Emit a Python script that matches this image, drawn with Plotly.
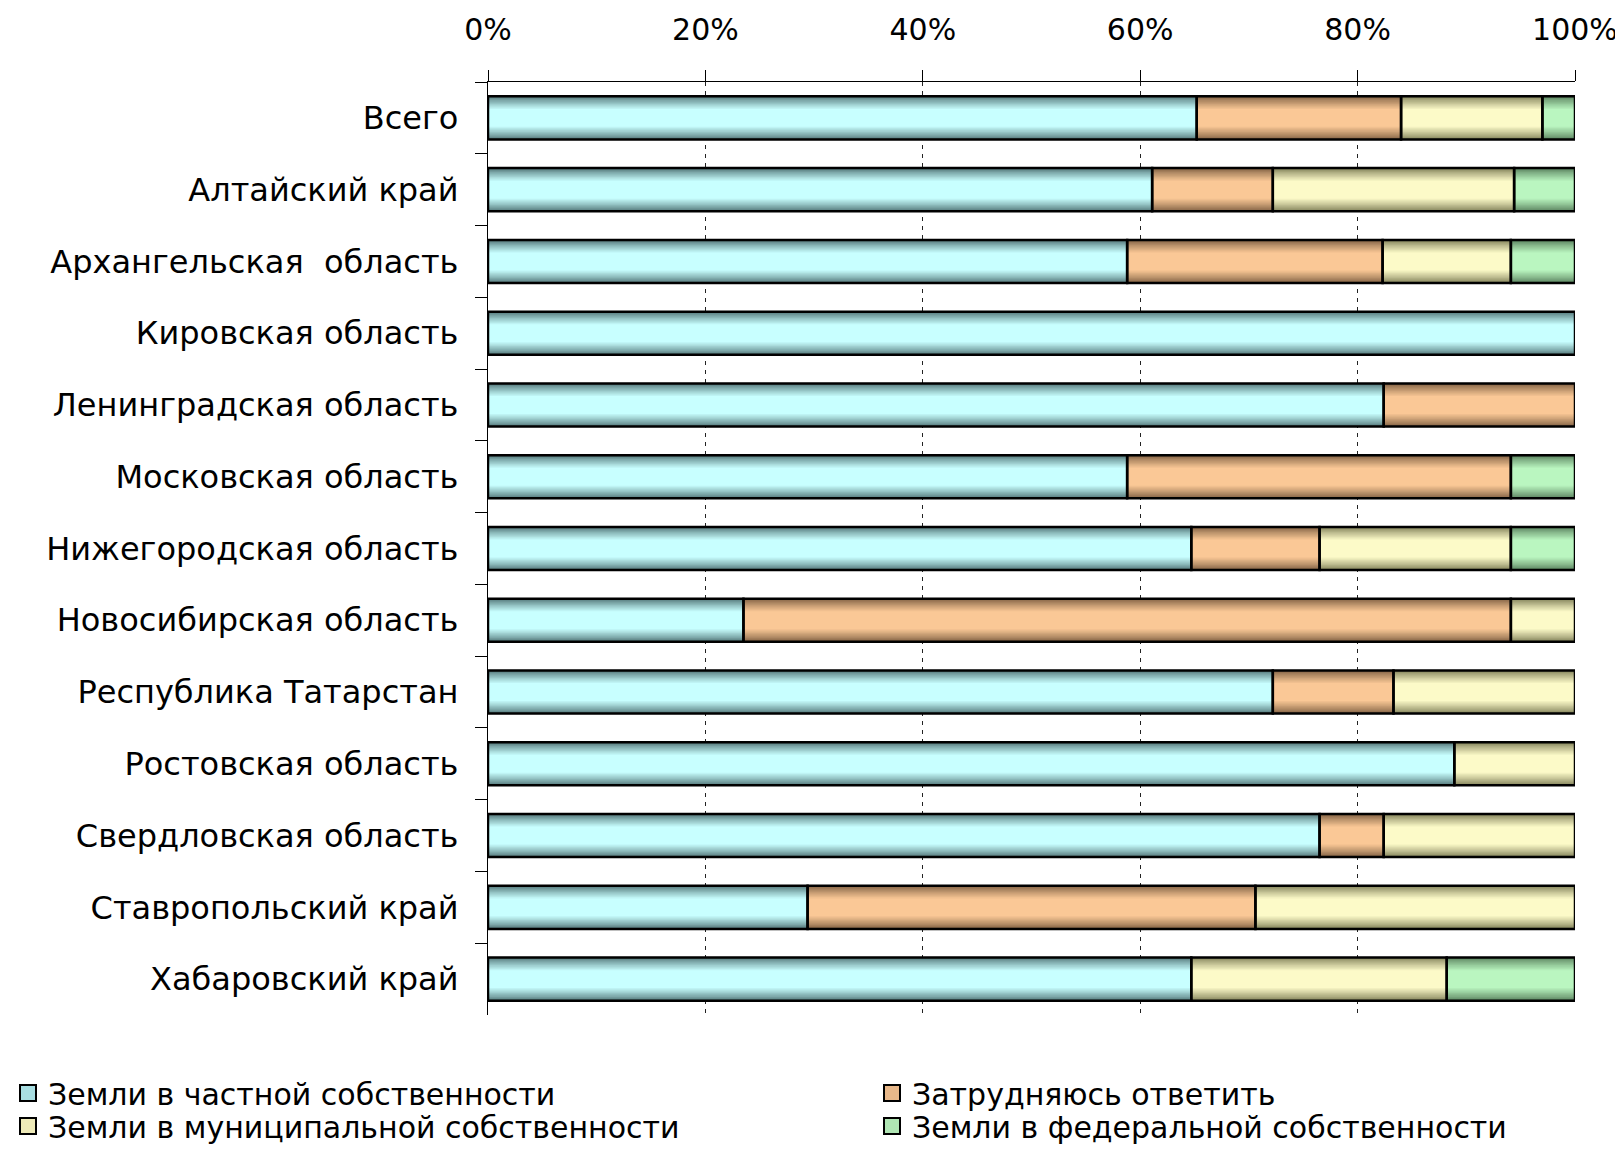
import plotly.graph_objects as go

categories = [
    "Всего",
    "Алтайский край",
    "Архангельская  область",
    "Кировская область",
    "Ленинградская область",
    "Московская область",
    "Нижегородская область",
    "Новосибирская область",
    "Республика Татарстан",
    "Ростовская область",
    "Свердловская область",
    "Ставропольский край",
    "Хабаровский край",
]

private_land = [65.2, 61.1, 58.8, 100.0, 82.4, 58.8, 64.7, 23.5, 72.2, 88.9, 76.5, 29.4, 64.7]
hard_to_say = [18.8, 11.1, 23.5, 0.0, 17.6, 35.3, 11.8, 70.6, 11.1, 0.0, 5.9, 41.2, 0.0]
municipal_land = [13.0, 22.2, 11.8, 0.0, 0.0, 0.0, 17.6, 5.9, 16.7, 11.1, 17.6, 29.4, 23.5]
federal_land = [3.0, 5.6, 5.9, 0.0, 0.0, 5.9, 5.9, 0.0, 0.0, 0.0, 0.0, 0.0, 11.8]

series_names = [
    "Земли в частной собственности",
    "Затрудняюсь ответить",
    "Земли в муниципальной собственности",
    "Земли в федеральной собственности",
]
series_values = [private_land, hard_to_say, municipal_land, federal_land]

x_tickvals = [0, 20, 40, 60, 80, 100]
x_ticktext = [f"{v}%" for v in x_tickvals]

# (edge colour, centre colour, legend colour)
series_colors = [
    ((84, 120, 122), (200, 255, 255), (168, 222, 226)),
    ((132, 100, 70), (250, 200, 150), (232, 184, 138)),
    ((132, 132, 92), (252, 250, 200), (238, 234, 184)),
    ((92, 132, 96), (186, 246, 192), (176, 230, 180)),
]

FONT = "DejaVu Sans"
BAR_W = 0.6
layer_widths = [0.60, 0.565, 0.53, 0.495, 0.46, 0.425, 0.39, 0.355, 0.32, 0.285, 0.25]

W, H = 1615, 1137  # page has an 8px body margin

# one legend per entry: (legend id, x left in px, y top in px)
legend_slots = [("legend", 0, 1059), ("legend2", 864, 1059),
                ("legend3", 0, 1092), ("legend4", 864, 1092)]


def mix(c1, c2, t):
    return "rgb(%d,%d,%d)" % tuple(round(a + (b - a) * t) for a, b in zip(c1, c2))


fig = go.Figure()

# legend-only entries
for name, (edge, centre, leg), (lg, _, _) in zip(series_names, series_colors, legend_slots):
    fig.add_trace(go.Scatter(
        x=[None], y=[None], mode="markers", name=name, legend=lg,
        marker=dict(symbol="square", size=16, color="rgb(%d,%d,%d)" % leg,
                    line=dict(color="black", width=2)),
        showlegend=True, hoverinfo="skip",
    ))

# cumulative bases
bases = []
running = [0.0] * len(categories)
for vals in series_values:
    bases.append(list(running))
    running = [r + v for r, v in zip(running, vals)]

n_layers = len(layer_widths)
for vals, base, (edge, centre, leg) in zip(series_values, bases, series_colors):
    xs = [v if v > 0 else None for v in vals]
    for k, w in enumerate(layer_widths):
        t = (k / (n_layers - 1)) ** 0.85
        fig.add_trace(go.Bar(
            x=xs, y=categories, base=base, orientation="h", width=w,
            marker=dict(color=mix(edge, centre, t), line=dict(width=0)),
            showlegend=False, hoverinfo="skip",
        ))

# outlines on top
for vals, base in zip(series_values, bases):
    xs = [v if v > 0 else None for v in vals]
    fig.add_trace(go.Bar(
        x=xs, y=categories, base=base, orientation="h", width=BAR_W,
        marker=dict(color="rgba(0,0,0,0)", line=dict(color="black", width=2.5)),
        showlegend=False, hoverinfo="skip",
    ))

legend_layout = {}
for lg, lx, ly in legend_slots:
    legend_layout[lg] = dict(
        orientation="h",
        xref="container", yref="container",
        x=lx / W, y=1 - ly / H,
        yanchor="top", xanchor="left",
        font=dict(family=FONT, size=30, color="black"),
        bgcolor="rgba(0,0,0,0)",
        itemsizing="trace",
    )

fig.update_layout(
    width=W, height=H,
    margin=dict(l=480, r=48, t=74, b=130, autoexpand=False),
    barmode="overlay",
    plot_bgcolor="white", paper_bgcolor="white",
    font=dict(family=FONT, color="black"),
    hovermode=False,
    **legend_layout,
    xaxis=dict(
        range=[0, 100], side="top", automargin=False,
        tickvals=x_tickvals, ticktext=x_ticktext, tickangle=0,
        ticklabeloverflow="allow",
        tickfont=dict(family=FONT, size=30, color="black"),
        ticks="outside", ticklen=11, tickwidth=1.3, tickcolor="black",
        showline=True, linecolor="black", linewidth=1.3,
        showgrid=True, gridcolor="#222222", gridwidth=1.3, griddash="4px,5px",
        zeroline=False, ticklabelstandoff=18,
    ),
    yaxis=dict(
        type="category", autorange="reversed", automargin=False,
        tickson="boundaries",
        tickfont=dict(family=FONT, size=32, color="black"),
        ticks="outside", ticklen=12, tickwidth=1.3, tickcolor="black",
        showline=True, linecolor="black", linewidth=1.3,
        showgrid=False, zeroline=False, ticklabelstandoff=22,
    ),
)

fig.write_html("out.html")
